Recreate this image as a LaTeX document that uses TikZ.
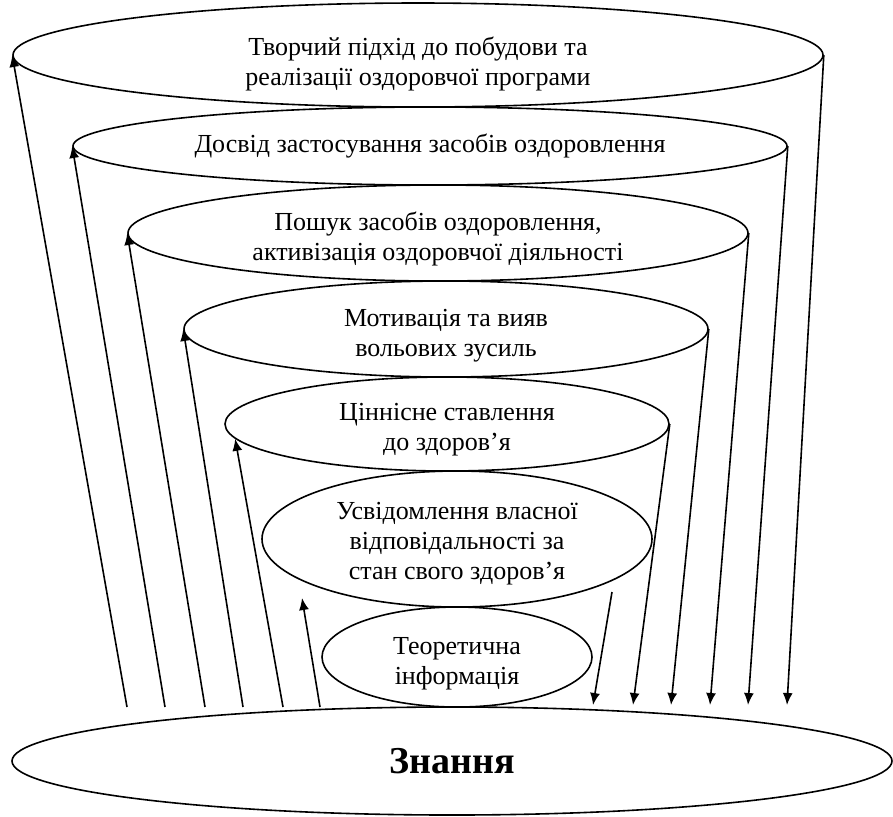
\documentclass[tikz,border=0pt]{standalone}
\usepackage{fontspec}
\setmainfont{Liberation Serif}
\usetikzlibrary{positioning, shapes, arrows.meta}

\begin{document}
\begin{tikzpicture}[x=0.5pt, y=-0.5pt, -{Latex[length=6pt,width=5pt]}, line width=0.8pt,
      level/.style={ellipse, draw, inner sep=0pt, align=center,
        font=\fontsize{13}{15}\selectfont}]
  \useasboundingbox (0,0) rectangle (893,816);
  % levels, top to bottom (the rules push the text a little down)
  \node[level, minimum width=405pt, minimum height=52pt] (tvor) at (418,55)
    {\rule{0pt}{18pt}Творчий підхід до побудови та\\реалізації оздоровчої програми};
  \node[level, minimum width=357pt, minimum height=39pt] (dosv) at (430,146)
    {Досвід застосування засобів оздоровлення};
  \node[level, minimum width=310pt, minimum height=48pt] (posh) at (438,233)
    {\rule{0pt}{15pt}Пошук засобів оздоровлення,\\активізація оздоровчої діяльності};
  \node[level, minimum width=262pt, minimum height=48pt] (motv) at (446,329)
    {\rule{0pt}{15pt}Мотивація та вияв\\вольових зусиль};
  \node[level, minimum width=222pt, minimum height=47pt] (cinn) at (447,424)
    {\rule{0pt}{14pt}Ціннісне ставлення\\до здоров’я};
  \node[level, minimum width=195pt, minimum height=68pt] (usvd) at (457,539)
    {\rule{0pt}{13pt}Усвідомлення власної\\відповідальності за\\стан свого здоров’я};
  \node[level, minimum width=135pt, minimum height=50pt] (teor) at (457,657)
    {\rule{0pt}{15pt}Теоретична\\інформація};
  % base
  \node[level, minimum width=440pt, minimum height=54pt,
    font=\fontsize{19}{22}\selectfont\bfseries] (znan) at (452,761) {Знання};
  % arrows up
  \coordinate (up1) at (127,707);
  \coordinate (up2) at (165,707);
  \coordinate (up3) at (205,707);
  \coordinate (up4) at (243,707);
  \coordinate (up5) at (283,707);
  \coordinate (up6) at (320,707);
  \coordinate (tip6) at (302,598);
  \path (up1) edge (tvor.west);
  \path (up2) edge (dosv.west);
  \path (up3) edge (posh.west);
  \path (up4) edge (motv.west);
  \path (up5) edge (cinn.184);
  \path (up6) edge (tip6);
  % arrows down
  \coordinate (dn1) at (787,705);
  \coordinate (dn2) at (748,705);
  \coordinate (dn3) at (710,705);
  \coordinate (dn4) at (671,705);
  \coordinate (dn5) at (633,705);
  \coordinate (dn6) at (593,705);
  \coordinate (top6) at (612,592);
  \path (tvor.east) edge (dn1);
  \path (dosv.east) edge (dn2);
  \path (posh.east) edge (dn3);
  \path (motv.east) edge (dn4);
  \path (cinn.east) edge (dn5);
  \path (top6) edge (dn6);
\end{tikzpicture}
\end{document}
